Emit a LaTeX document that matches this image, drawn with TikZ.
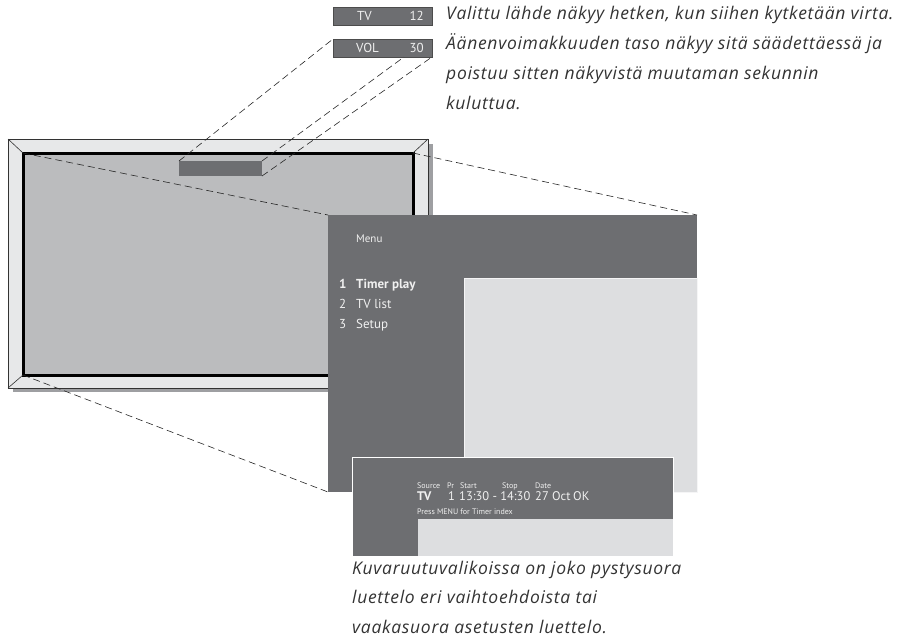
\documentclass[tikz,border=0pt]{standalone}
\usepackage{fontspec}
\setmainfont{Open Sans}
\newfontfamily\osdfont{PT Sans}
\newfontfamily\capfont[LetterSpace=4]{Open Sans}
\usetikzlibrary{positioning}

\begin{document}
\begin{tikzpicture}[x=1pt, y=-1pt]
    \tikzset{
        box/.style={inner sep=0pt, outer sep=0pt, anchor=north west},
        guide/.style={dash pattern=on 7pt off 4pt, line width=0.6pt, draw=black!85},
        osd/.style={inner sep=0pt, anchor=base west, text=white!94!black, font=\osdfont\fontsize{#1}{#1}\selectfont},
        osd/.default=11,
        caption/.style={inner sep=0pt, anchor=base west, text=black!80, font=\capfont\itshape\fontsize{17.5}{20}\selectfont}
    }
\definecolor{PanelDark}{RGB}{109,110,113}
\definecolor{PanelLight}{RGB}{221,222,224}
\definecolor{ScreenGrey}{RGB}{187,188,190}
\definecolor{FrameGrey}{RGB}{231,232,233}
\definecolor{ShadowGrey}{RGB}{158,159,162}
\useasboundingbox (0,0) rectangle (914,641);

% Fernseher mit Schatten
\fill[ShadowGrey] (13,144) rectangle (433,392);
\node[box, draw=black!80, line width=0.8pt, fill=FrameGrey, minimum width=420pt, minimum height=249pt] (frame) at (8,139) {};
\node[box, draw=black, line width=3pt, fill=ScreenGrey, minimum width=390pt, minimum height=222pt] (screen) at (23,153) {};
\foreach \c in {north west, north east, south west, south east} {
    \draw[black!80, line width=0.6pt] (frame.\c) -- (screen.\c);
}
\node[box, fill=PanelDark, minimum width=83pt, minimum height=15pt] (osdbar) at (179,161) {};

% Anzeigen TV / VOL
\node[box, fill=PanelDark, draw=black!70, line width=0.5pt, minimum width=99pt, minimum height=18pt] (tvbox) at (333,7) {};
\node[box, fill=PanelDark, draw=black!70, line width=0.5pt, minimum width=99pt, minimum height=18pt] (volbox) at (333,39) {};
\node[osd=13, anchor=west] (tvname) at ([xshift=24pt]tvbox.west) {TV};
\node[osd=13, anchor=east] (tvnum) at ([xshift=-8pt]tvbox.east) {12};
\node[osd=13, anchor=west] (volname) at ([xshift=23pt]volbox.west) {VOL};
\node[osd=13, anchor=east] (volnum) at ([xshift=-8pt]volbox.east) {30};

\draw[guide] (osdbar.north west) -- (volbox.north west);
\draw[guide] (osdbar.north east) -- ([xshift=-28pt]volbox.south east);
\draw[guide] (osdbar.south east) -- (volbox.south east);

% Menue
\node[box, fill=PanelDark, minimum width=369pt, minimum height=277pt] (menu) at (328,215) {};
\node[box, anchor=south east, fill=PanelLight, draw=white!70!PanelLight, line width=0.5pt, minimum width=233pt, minimum height=214pt] (menupage) at (menu.south east) {};
\draw[guide] (screen.north west) -- (menu.north west);
\draw[guide] (screen.north east) -- (menu.north east);
\draw[guide] (screen.south west) -- (menu.south west);

\node[osd=11] (menutitle) at (356,242) {Menu};
\node[osd=13] (item1num) at (339,288) {\bfseries 1};
\node[osd=13] (item1) at (356,288) {\bfseries Timer play};
\foreach \k/\txt [count=\n] in {2/TV list, 3/Setup} {
    \node[osd=13] (item\k num) at (339,288+\n*20) {\k};
    \node[osd=13] (item\k) at (356,288+\n*20) {\txt};
}

% Timer-Zeile
\node[box, fill=PanelDark, draw=white, line width=1pt, minimum width=321pt, minimum height=99pt] (timer) at (352,457) {};
\node[box, anchor=south east, fill=PanelLight, minimum width=255pt, minimum height=37pt] (timerpage) at (timer.south east) {};
\foreach \x/\txt in {417/Source, 447/Pr, 460/Start, 502/Stop, 535/Date} {
    \node[osd=8] (head\txt) at (\x,488) {\txt};
}
\node[osd=12.5] (tsource) at (417,500) {\bfseries TV};
\node[osd=12.5] (tpr) at (448,500) {1};
\node[osd=12.5] (ttime) at (459,500) {13:30 - 14:30};
\node[osd=12.5] (tdate) at (535,500) {27 Oct};
\node[osd=12.5] (tok) at (573,500) {OK};
\node[osd=8] (tpress) at (417,514) {Press MENU for Timer index};

% Texte
\foreach \line [count=\n] in {{Valittu lähde näkyy hetken, kun siihen kytketään virta.},
    {Äänenvoimakkuuden taso näkyy sitä säädettäessä ja},
    {poistuu sitten näkyvistä muutaman sekunnin},
    {kuluttua.}} {
    \node[caption] (top\n) at (446,19+\n*30-30) {\line};
}
\foreach \line [count=\n] in {{Kuvaruutuvalikoissa on joko pystysuora},
    {luettelo eri vaihtoehdoista tai},
    {vaakasuora asetusten luettelo.}} {
    \node[caption] (bottom\n) at (352,574+\n*29.5-29.5) {\line};
}
\end{tikzpicture}
\end{document}
